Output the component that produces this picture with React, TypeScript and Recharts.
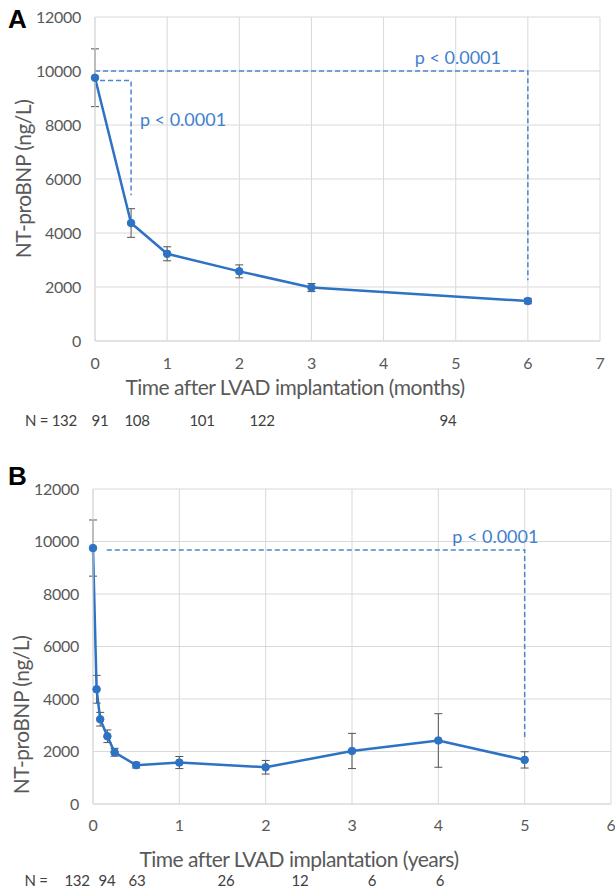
import React from 'react';
import { LineChart, Line, XAxis, YAxis, CartesianGrid, ErrorBar, ReferenceDot } from 'recharts';

const monthsA = [0, 0.5, 1, 2, 3, 6];
const meanA = [9750, 4370, 3230, 2580, 1980, 1480];
const errA = [1070, 530, 260, 240, 150, 100];

const yearsB = [0, 0.0417, 0.0833, 0.1667, 0.25, 0.5, 1, 2, 3, 4, 5];
const meanB = [9750, 4370, 3230, 2580, 1970, 1480, 1580, 1400, 2020, 2420, 1680];
const errB = [1070, 530, 260, 240, 150, 110, 230, 260, 670, 1020, 310];

const yTicks = [0, 2000, 4000, 6000, 8000, 10000, 12000];
const xTicksA = [0, 1, 2, 3, 4, 5, 6, 7];
const xTicksB = [0, 1, 2, 3, 4, 5, 6];

// dashed significance brackets (x, y in data units)
const bracketA1 = [{ x: 0, y: 10000 }, { x: 6, y: 10000 }, { x: 6, y: 2250 }];
const bracketA2 = [{ x: 0.07, y: 9650 }, { x: 0.5, y: 9650 }, { x: 0.5, y: 5400 }];
const bracketB = [{ x: 0.16, y: 9680 }, { x: 5, y: 9680 }, { x: 5, y: 2550 }];
const pLabelsA = [{ x: 5.03, y: 10500 }, { x: 1.22, y: 8200 }];
const pLabelsB = [{ x: 4.66, y: 10200 }];
const pText = 'p < 0.0001';

const nLabelsA = ['N = 132', '91', '108', '101', '122', '94'];
const nLabelsB = ['N =', '132', '94', '63', '26', '12', '6', '6'];
const nPosA = [51, 100, 137, 202, 262, 448];
const nPosB = [36, 77, 107, 137, 226, 300, 372, 440];

const FONT = 'Lato, "Open Sans", sans-serif';
const LINE = '#2e72c4';
const DASH = '#4a86d0';
const GRID = '#d9d9d9';
const TXT = '#595959';

const seriesA = monthsA.map((m, i) => ({ x: m, y: meanA[i], err: errA[i] }));
const seriesB = yearsB.map((t, i) => ({ x: t, y: meanB[i], err: errB[i] }));

const tick = { fill: TXT, fontSize: 16, fontFamily: FONT, letterSpacing: -0.3 };

const abs = (left: number, top: number, extra: React.CSSProperties = {}): React.CSSProperties => ({
  position: 'absolute',
  left,
  top,
  transform: 'translate(-50%, -50%)',
  whiteSpace: 'nowrap',
  ...extra,
});

interface PanelProps {
  data: { x: number; y: number; err: number }[];
  brackets: { x: number; y: number }[][];
  pLabels: { x: number; y: number }[];
  xTicks: number[];
  margin: { top: number; right: number; bottom: number; left: number };
  height: number;
  tickGap: number;
  yAxisWidth: number;
}

const Panel: React.FC<PanelProps> = ({ data, brackets, pLabels, xTicks, margin, height, tickGap, yAxisWidth }) => (
  <LineChart width={615} height={height} margin={margin}>
    <CartesianGrid stroke={GRID} strokeWidth={1} />
    <XAxis
      type="number"
      dataKey="x"
      domain={[xTicks[0], xTicks[xTicks.length - 1]]}
      ticks={xTicks}
      tick={tick}
      tickLine={false}
      tickSize={0}
      tickMargin={tickGap}
      axisLine={{ stroke: GRID }}
      height={30}
    />
    <YAxis
      type="number"
      domain={[0, 12000]}
      ticks={yTicks}
      tick={tick}
      tickLine={false}
      tickSize={0}
      tickMargin={14}
      axisLine={{ stroke: GRID }}
      width={yAxisWidth}
    />
    {brackets.map((b, i) => (
      <Line
        key={'br' + i}
        data={b}
        dataKey="y"
        stroke={DASH}
        strokeWidth={1.5}
        strokeDasharray="5 3"
        dot={false}
        activeDot={false}
        isAnimationActive={false}
      />
    ))}
    <Line
      data={data}
      dataKey="y"
      stroke={LINE}
      strokeWidth={2.5}
      dot={{ r: 3.8, fill: LINE, stroke: LINE, strokeWidth: 1 }}
      activeDot={false}
      isAnimationActive={false}
    >
      <ErrorBar dataKey="err" direction="y" width={4} stroke="#555" strokeWidth={1} isAnimationActive={false} />
    </Line>
    {pLabels.map((p, i) => (
      <ReferenceDot
        key={'p' + i}
        x={p.x}
        y={p.y}
        r={0}
        fill="none"
        stroke="none"
        label={{ value: pText, position: 'center', fill: '#3f7fcf', fontSize: 18, fontFamily: FONT }}
      />
    ))}
  </LineChart>
);

export default function App() {
  const title: React.CSSProperties = { color: TXT, fontSize: 21, fontFamily: FONT, letterSpacing: -0.5 };
  const nStyle: React.CSSProperties = { color: '#404040', fontSize: 15, fontFamily: FONT, letterSpacing: -0.3 };
  const letter: React.CSSProperties = {
    position: 'absolute',
    fontFamily: '"Liberation Sans", Arial, sans-serif',
    fontWeight: 'bold',
    fontSize: 26,
    color: '#000',
  };
  return (
    <div style={{ position: 'absolute', left: 0, top: 0, width: 615, height: 889, background: '#fff', overflow: 'hidden' }}>
      <div style={{ position: 'absolute', left: 0, top: 0 }}>
        <Panel
          data={seriesA}
          brackets={[bracketA1, bracketA2]}
          pLabels={pLabelsA}
          xTicks={xTicksA}
          margin={{ top: 17, right: 15, bottom: 69, left: 35 }}
          height={440}
          tickGap={17}
          yAxisWidth={60}
        />
      </div>
      <div style={{ position: 'absolute', left: 0, top: 450 }}>
        <Panel
          data={seriesB}
          brackets={[bracketB]}
          pLabels={pLabelsB}
          xTicks={xTicksB}
          margin={{ top: 39, right: 4, bottom: 55, left: 35 }}
          height={439}
          tickGap={16}
          yAxisWidth={58}
        />
      </div>

      <div style={{ ...letter, left: 8, top: 4 }}>A</div>
      <div style={{ ...letter, left: 8, top: 461 }}>B</div>

      <div style={abs(22, 179, { ...title, transform: 'translate(-50%, -50%) rotate(-90deg)' })}>NT-proBNP (ng/L)</div>
      <div style={abs(20, 715, { ...title, transform: 'translate(-50%, -50%) rotate(-90deg)' })}>NT-proBNP (ng/L)</div>

      <div style={abs(295, 386, title)}>Time after LVAD implantation (months)</div>
      <div style={abs(299, 858, title)}>Time after LVAD implantation (years)</div>

      {nLabelsA.map((s, i) => (
        <div key={'na' + i} style={abs(nPosA[i], 420, nStyle)}>{s}</div>
      ))}
      {nLabelsB.map((s, i) => (
        <div key={'nb' + i} style={abs(nPosB[i], 880, nStyle)}>{s}</div>
      ))}
    </div>
  );
}
